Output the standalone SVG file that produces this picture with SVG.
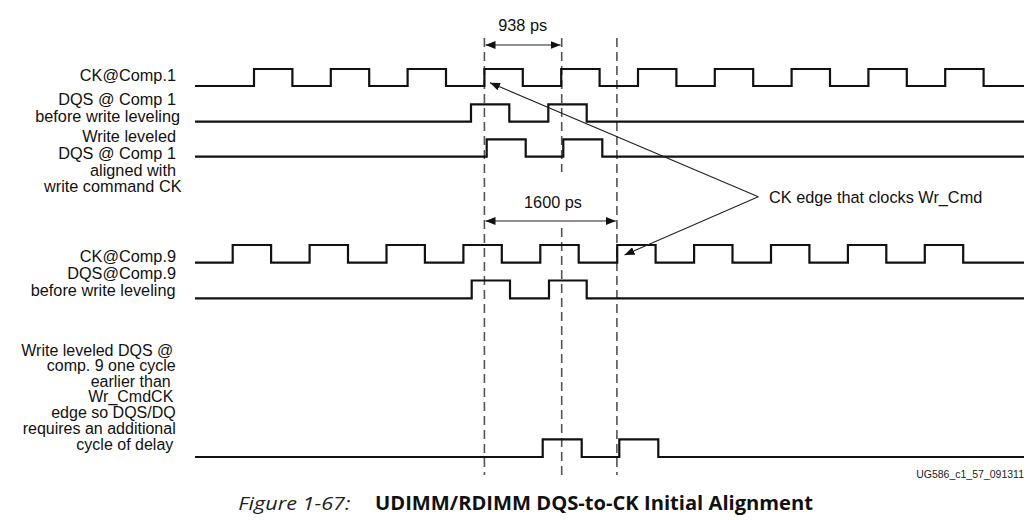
<svg xmlns="http://www.w3.org/2000/svg" width="1032" height="520" viewBox="0 0 1032 520">
<style>
.bg{fill:#ffffff}
.wave{fill:none;stroke:#111;stroke-width:2.2;stroke-linejoin:miter}
.dash{fill:none;stroke:#555;stroke-width:1.6;stroke-dasharray:9 5}
.thin{fill:none;stroke:#222;stroke-width:1.1}
.lbl{font-family:"Liberation Sans",Arial,sans-serif;font-size:16.3px;fill:#111;text-anchor:end}
.lbs{font-family:"Liberation Sans",Arial,sans-serif;font-size:16px;fill:#111;text-anchor:end}
.note{font-family:"Liberation Sans",Arial,sans-serif;font-size:16.3px;fill:#111}
.dim{font-family:"Liberation Sans",Arial,sans-serif;font-size:16.3px;fill:#111;text-anchor:middle}
.id{font-family:"Liberation Sans",Arial,sans-serif;font-size:10.5px;fill:#222;text-anchor:end}
.capi{font-family:"Open Sans","Noto Sans",sans-serif;font-size:19px;font-style:italic;fill:#222}
.capb{font-family:"Open Sans","Noto Sans",sans-serif;font-size:19px;font-weight:bold;fill:#111}
</style>
<defs>
<marker id="ah" viewBox="0 0 10 8" refX="10" refY="4" markerWidth="10" markerHeight="8" markerUnits="userSpaceOnUse" orient="auto-start-reverse">
<path d="M0,0 L10,4 L0,8 z" fill="#111"/>
</marker>
</defs>
<rect class="bg" x="0" y="0" width="1032" height="520"/>

<g id="dashed-guides">
<line class="dash" x1="484.4" y1="38" x2="484.4" y2="475"/>
<line class="dash" x1="561.7" y1="38" x2="561.7" y2="172"/>
<line class="dash" x1="561.7" y1="228" x2="561.7" y2="475"/>
<line class="dash" x1="616.9" y1="38" x2="616.9" y2="475"/>
</g>

<g id="ck-comp1">
<text class="lbl" x="176" y="81">CK@Comp.1</text>
<path class="wave" d="M195,86 H254 V69 H292.4 V86 H330.8 V69 H369.2 V86 H407.6 V69 H446 V86 H484.4 V69 H522.8 V86 H561.2 V69 H599.6 V86 H638 V69 H676.4 V86 H714.8 V69 H753.2 V86 H791.6 V69 H830 V86 H868.4 V69 H906.8 V86 H945.2 V69 H983.6 V86 H1024"/>
</g>

<g id="dqs-comp1-before">
<text class="lbl" x="176" y="105">DQS @ Comp 1</text>
<text class="lbl" x="180" y="121.7">before write leveling</text>
<path class="wave" d="M195,121.7 H471 V104.3 H509.3 V121.7 H548.3 V104.3 H586.7 V121.7 H1024"/>
</g>

<g id="dqs-comp1-leveled">
<text class="lbl" x="176" y="142.3">Write leveled</text>
<text class="lbl" x="176" y="159.3">DQS @ Comp 1</text>
<text class="lbl" x="176" y="175.7">aligned with</text>
<text class="lbl" x="181.5" y="191.7">write command CK</text>
<path class="wave" d="M195,156.7 H486.7 V139.3 H525.7 V156.7 H563.3 V139.3 H602.3 V156.7 H1024"/>
</g>

<g id="ck-comp9">
<text class="lbl" x="176" y="262.3">CK@Comp.9</text>
<path class="wave" d="M195,262.7 H232.7 V245 H271.1 V262.7 H309.6 V245 H348 V262.7 H386.5 V245 H424.9 V262.7 H463.4 V245 H501.8 V262.7 H540.3 V245 H578.7 V262.7 H617.2 V245 H655.6 V262.7 H694.1 V245 H732.5 V262.7 H771 V245 H809.4 V262.7 H847.9 V245 H886.3 V262.7 H924.8 V245 H963.2 V262.7 H1024"/>
</g>

<g id="dqs-comp9-before">
<text class="lbl" x="176" y="279.3">DQS@Comp.9</text>
<text class="lbl" x="175.5" y="295.7">before write leveling</text>
<path class="wave" d="M195,298.3 H471.7 V280.5 H510 V298.3 H549 V280.5 H586.7 V298.3 H1024"/>
</g>

<g id="dqs-comp9-leveled">
<text class="lbs" x="173.3" y="355.7">Write leveled DQS @</text>
<text class="lbs" x="175.7" y="371">comp. 9 one cycle</text>
<text class="lbs" x="170.7" y="386.5">earlier than</text>
<text class="lbs" x="173.3" y="402.3">Wr_CmdCK</text>
<text class="lbs" x="175.7" y="418.3">edge so DQS/DQ</text>
<text class="lbs" x="175.7" y="434">requires an additional</text>
<text class="lbs" x="173.3" y="450">cycle of delay</text>
<path class="wave" d="M195,457 H542.7 V439.3 H581.7 V457 H619.3 V439.3 H658.3 V457 H1024"/>
</g>

<g id="connectors">
<line class="thin" x1="485.5" y1="45" x2="560.6" y2="45" marker-start="url(#ah)" marker-end="url(#ah)"/>
<line class="thin" x1="485.5" y1="221" x2="615.8" y2="221" marker-start="url(#ah)" marker-end="url(#ah)"/>
<line class="thin" x1="758.3" y1="196.7" x2="490" y2="82.7" marker-end="url(#ah)"/>
<line class="thin" x1="758.3" y1="196.7" x2="624.5" y2="255" marker-end="url(#ah)"/>
</g>

<g id="dimension-labels">
<text class="dim" x="522.7" y="30.7">938 ps</text>
<text class="dim" x="553" y="208.3">1600 ps</text>
</g>

<g id="annotation">
<text class="note" x="769" y="203.3">CK edge that clocks Wr_Cmd</text>
</g>

<g id="caption">
<text class="id" x="1024" y="478.3">UG586_c1_57_091311</text>
<text class="capi" x="238.3" y="510" textLength="112" lengthAdjust="spacingAndGlyphs">Figure 1-67:</text>
<text class="capb" x="375" y="510" textLength="438" lengthAdjust="spacingAndGlyphs">UDIMM/RDIMM DQS-to-CK Initial Alignment</text>
</g>
</svg>
